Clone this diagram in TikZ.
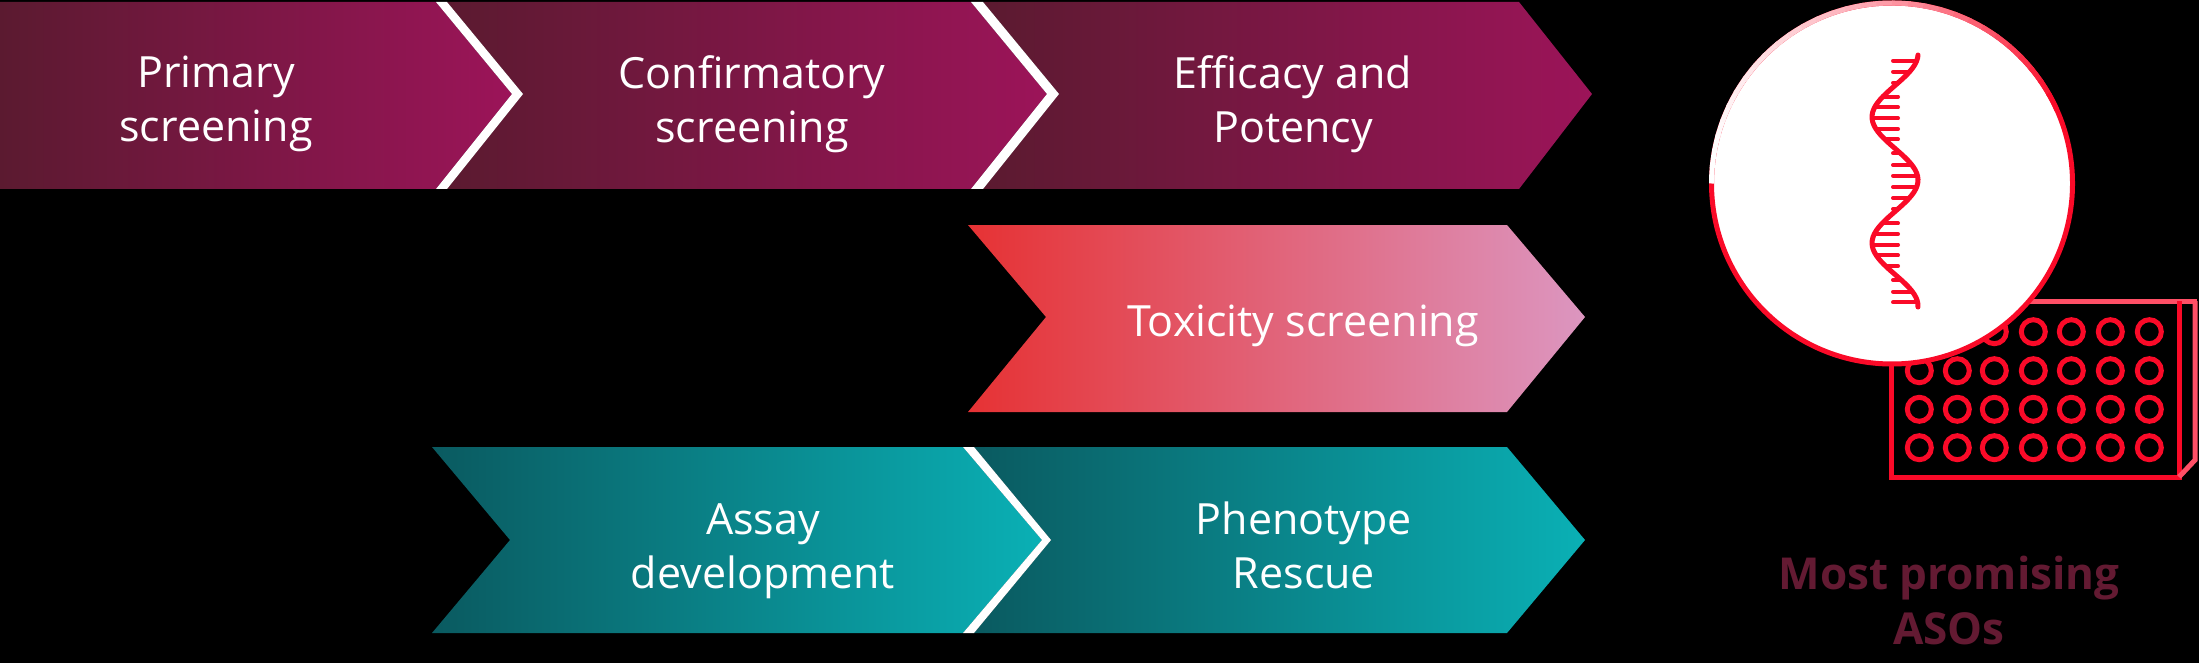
\documentclass[tikz,border=0pt]{standalone}
\usepackage{fontspec}
\setmainfont{Open Sans}
\usetikzlibrary{positioning}

\definecolor{mauveDark}{HTML}{5B1A30}
\definecolor{mauveLight}{HTML}{9C1459}
\definecolor{tealDark}{HTML}{0A5A60}
\definecolor{tealLight}{HTML}{0AB0B5}
\definecolor{toxRed}{HTML}{E63234}
\definecolor{toxPink}{HTML}{DC96C0}
\definecolor{iconRed}{HTML}{FA0A28}
\definecolor{plateTop}{HTML}{FF4F66}
\definecolor{asoText}{HTML}{631A32}

\begin{document}
\begin{tikzpicture}[
    x=1pt, y=-1pt, % One unit is one pixel of the reference, y runs down
    mauvearrow/.style={left color=mauveDark, right color=mauveLight}, % Top row
    toxarrow/.style={left color=toxRed, right color=toxPink}, % Middle row
    tealarrow/.style={left color=tealDark, right color=tealLight}, % Bottom row
    divider/.style={fill=white}, % White chevron between two arrows
    labelstyle/.style={text=white, align=center, font=\fontsize{43}{54}\selectfont}, % Arrow labels
    icon/.style={draw=iconRed, line width=5pt}, % Plate and wells
    strand/.style={draw=iconRed, line width=5pt, line cap=round}, % Helix backbone
    rung/.style={draw=iconRed, line width=4pt, line cap=round} % Helix base pairs
]

    % Background and page size
    \fill[black, use as bounding box] (0, 0) rectangle (2199, 663);

    % Top row arrows
    \shade[mauvearrow] (0, 2) -- (436, 2) -- (512, 94) -- (436, 189) -- (0, 189) -- cycle;
    \shade[mauvearrow] (447, 2) -- (971, 2) -- (1047, 94) -- (971, 189) -- (447, 189) -- (523, 94) -- cycle;
    \shade[mauvearrow] (983, 2) -- (1519, 2) -- (1592, 94) -- (1519, 189) -- (983, 189) -- (1059, 94) -- cycle;
    \fill[divider] (436, 2) -- (447, 2) -- (523, 94) -- (447, 189) -- (436, 189) -- (512, 94) -- cycle;
    \fill[divider] (971, 2) -- (983, 2) -- (1059, 94) -- (983, 189) -- (971, 189) -- (1047, 94) -- cycle;

    % Middle row arrow
    \shade[toxarrow] (968, 225) -- (1507, 225) -- (1585, 317) -- (1507, 412) -- (968, 412) -- (1046, 317) -- cycle;

    % Bottom row arrows
    \shade[tealarrow] (432, 447) -- (963, 447) -- (1042, 540) -- (963, 633) -- (432, 633) -- (510, 540) -- cycle;
    \shade[tealarrow] (974, 447) -- (1507, 447) -- (1585, 540) -- (1507, 633) -- (974, 633) -- (1051, 540) -- cycle;
    \fill[divider] (963, 447) -- (974, 447) -- (1051, 540) -- (974, 633) -- (963, 633) -- (1042, 540) -- cycle;

    % Labels
    \node[labelstyle] (primary) at (216, 104) {Primary\\screening};
    \node[labelstyle] (confirm) at (752, 104) {Confirmatory\\screening};
    \node[labelstyle] (efficacy) at (1293, 104) {Efficacy and\\Potency};
    \node[labelstyle] (toxicity) at (1303, 326) {Toxicity screening};
    \node[labelstyle] (assay) at (763, 551) {Assay\\development};
    \node[labelstyle] (rescue) at (1304, 545) {Phenotype\\Rescue};
    \node[text=asoText, align=center, font=\fontsize{44}{55}\selectfont\bfseries] (asos) at (1949, 600) {Most promising\\ASOs};

    % Well plate
    \draw[icon, draw=plateTop] (1891, 301) -- (2197, 301);
    \draw[icon] (1891, 301) -- (1891, 477) -- (2179, 477) -- (2179, 301);
    \draw[icon, draw=plateTop] (2179, 477) -- (2195, 460) -- (2195, 301);
    \foreach \wx in {1919.3, 1957.3, 1994.3, 2033.3, 2071.3, 2110.3, 2149.3}
        \foreach \wy in {331.7, 370.7, 409.3, 447.7}
            \draw[icon] (\wx, \wy) circle (12);

    % Circle around the helix, its stroke fades towards the upper left
    \coordinate (CircCenter) at (1892, 183.5);
    \def\radius{180.5}
    \draw[icon, fill=white] (CircCenter) circle (\radius);
    \foreach \ang in {180, 185, ..., 330} {
        \pgfmathsetmacro{\fade}{100*((\ang-180)/150)^1.6}
        \draw[line width=5pt, iconRed!\fade!white] ([shift={(\ang:\radius)}]CircCenter) arc (\ang:\ang+6:\radius);
    }

    % Helix
    \draw[strand] plot[domain=55:307, samples=80, smooth] ({1895-23*cos(2.857*(\x-117))}, \x);
    \foreach \ry in {60.7, 71.7, 82.7, 153.3, 165, 175.7, 187, 198, 209, 280, 291.7, 302.3}
        \draw[rung] (1893, \ry) -- ({1895-23*cos(2.857*(\ry-117))}, \ry); % Right lobes
    \foreach \ry in {96.7, 107.3, 118.3, 129, 139.3, 223.3, 234, 244.7, 255.3, 266}
        \draw[rung] ({1895-23*cos(2.857*(\ry-117))}, \ry) -- (1898, \ry); % Left lobes

\end{tikzpicture}
\end{document}
